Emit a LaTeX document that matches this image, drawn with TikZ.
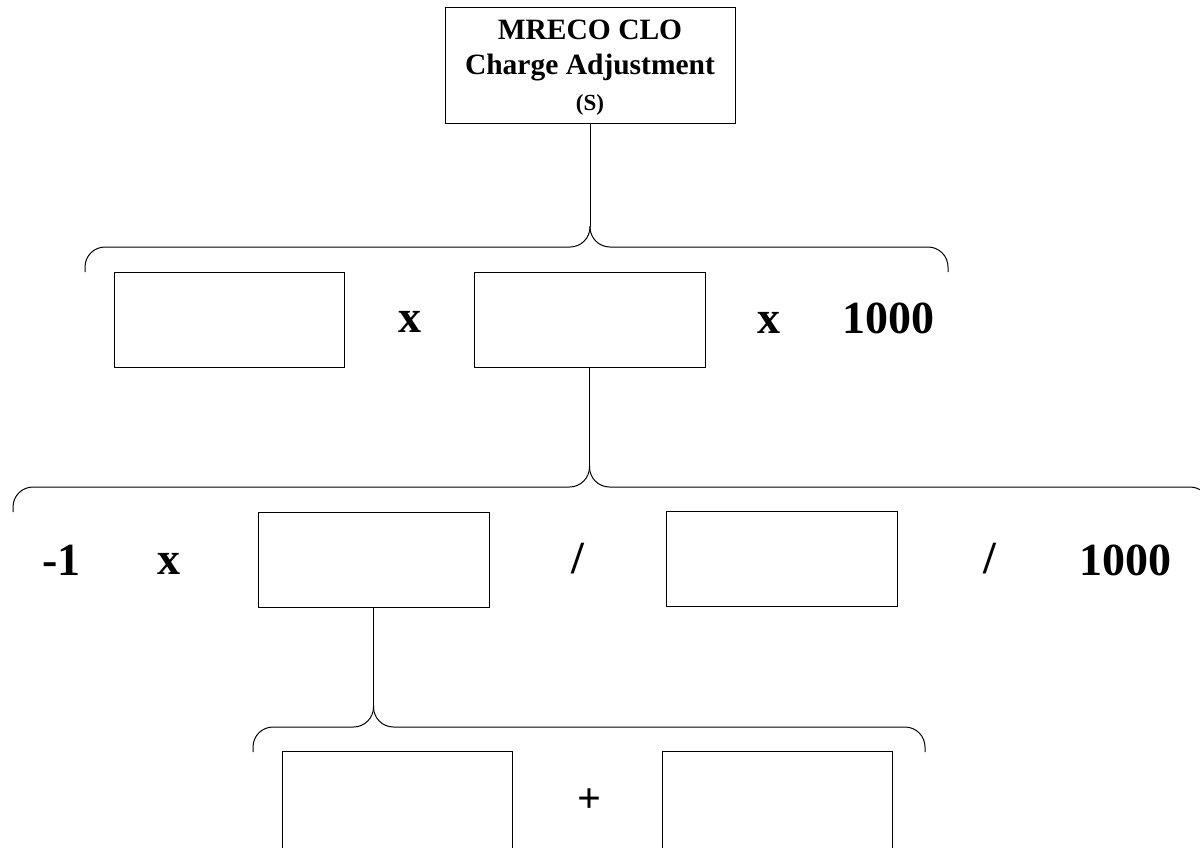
\documentclass[tikz,border=0pt]{standalone}
\usepackage{fontspec}
\setmainfont{Liberation Serif}
\begin{document}
\begin{tikzpicture}[x=1pt,y=-1pt,
  box/.style={draw, line width=1pt, inner sep=0pt, outer sep=0pt, minimum width=230pt, minimum height=95pt},
  brace/.style={draw, line width=1pt, rounded corners=20pt},
  conn/.style={draw, line width=1pt},
  op/.style={font=\fontsize{46}{46}\selectfont\bfseries, inner sep=0pt, anchor=base},
  title/.style={font=\fontsize{29.5}{29.5}\selectfont\bfseries, inner sep=0pt, anchor=base}]
\useasboundingbox (0,0) rectangle (1200,847);
\clip (0,0) rectangle (1200,847);
% top box
\node[box, minimum width=290pt, minimum height=116pt] (top) at (590,65) {};
\node[title] (t1) at (590,39.5) {MRECO CLO};
\node[title] (t2) at (590,74.5) {Charge Adjustment};
\node[title, font=\fontsize{23}{23}\selectfont\bfseries] (t3) at (590,110) {(S)};
% row 1
\node[box] (b1) at (229,319.5) {};
\node[box, minimum width=231pt] (b2) at (589.5,319.5) {};
\node[op] (x1) at (409.5,332) {x};
\node[op] (x2) at (769,333) {x};
\node[op] (k1) at (888.5,333) {1000};
% row 2
\node[box, minimum width=231pt] (b3) at (373.5,559.5) {};
\node[box, minimum width=231pt] (b4) at (781.5,558.5) {};
\node[op] (m1) at (61.5,575) {-1};
\node[op] (x3) at (169,574) {x};
\node[op] (d1) at (577.5,573) {/};
\node[op] (d2) at (990,573) {/};
\node[op] (k2) at (1125.5,575) {1000};
% row 3
\node[box, minimum height=97pt] (b5) at (397.5,799.5) {};
\node[box, minimum height=97pt] (b6) at (777,799.5) {};
\node[op, font=\fontsize{42}{42}\selectfont\bfseries] (p1) at (589,812) {+};
% braces
\coordinate (tipA) at (590,226);
\coordinate (tipB) at (589.5,466);
\coordinate (tipC) at (373.5,706);
\draw[conn] (top.south) -- (tipA);
\draw[brace] (85,272) -- (85,247) -- (590,247) -- (tipA);
\draw[brace] (tipA) -- (590,247) -- (948,247) -- (948,272);
\draw[conn] (b2.south) -- (tipB);
\draw[brace] (13,512) -- (13,487) -- (589.5,487) -- (tipB);
\draw[brace] (tipB) -- (589.5,487) -- (1210,487) -- (1210,512);
\draw[conn] (b3.south) -- (tipC);
\draw[brace] (253,752) -- (253,727) -- (373.5,727) -- (tipC);
\draw[brace] (tipC) -- (373.5,727) -- (925,727) -- (925,752);
\end{tikzpicture}
\end{document}
